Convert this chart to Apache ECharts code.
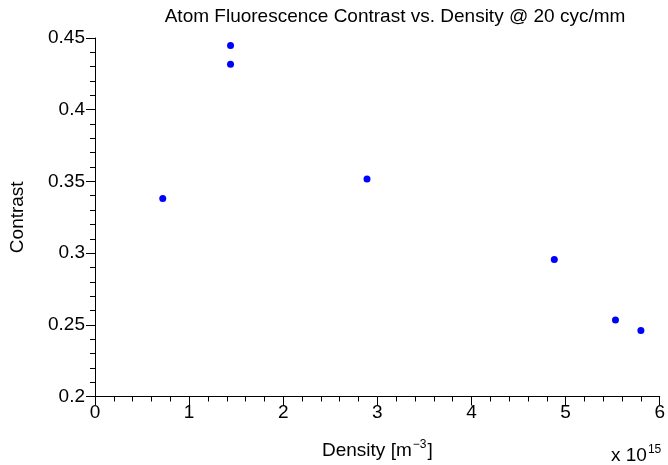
<!DOCTYPE html>
<html>
<head>
<meta charset="utf-8">
<script src="https://cdn.jsdelivr.net/npm/echarts@6/dist/echarts.min.js"></script>
<style>
  html, body { margin: 0; padding: 0; background: #fff; }
  #box { width: 668px; height: 465px; }
</style>
</head>
<body>
<div id="box"></div>
<script>
  // density in units of 1e15 m^-3
  const density = [0.72, 1.44, 1.44, 2.89, 4.88, 5.53, 5.80];
  const contrast = [0.338, 0.4447, 0.4317, 0.3516, 0.2956, 0.2533, 0.246];
  const xTicks = ['0', '1', '2', '3', '4', '5', '6'];
  const yTicks = ['0.2', '0.25', '0.3', '0.35', '0.4', '0.45'];

  const font = "'Liberation Sans', Arial, Helvetica, sans-serif";
  const fs = 19;

  const axisCommon = {
    axisLine: { show: true, lineStyle: { color: '#000', width: 1 } },
    axisTick: { show: true, inside: false, length: 9, lineStyle: { color: '#000' } },
    minorTick: { show: true, splitNumber: 5, length: 5, lineStyle: { color: '#000' } },
    splitLine: { show: false },
    minorSplitLine: { show: false },
  };

  const chart = echarts.init(document.getElementById('box'));
  chart.setOption({
    animation: false,
    backgroundColor: '#fff',
    textStyle: { fontFamily: font },
    title: {
      text: 'Atom Fluorescence Contrast vs. Density @ 20 cyc/mm',
      left: 390,
      top: 2,
      textAlign: 'center',
      textStyle: { fontFamily: font, fontSize: fs, fontWeight: 'normal', color: '#000' },
    },
    grid: { left: 92, right: 5, top: 38, bottom: 67, containLabel: false },
    xAxis: {
      type: 'value',
      min: 0,
      max: 6,
      interval: 1,
      ...axisCommon,
      axisLabel: {
        fontFamily: font,
        fontSize: fs,
        color: '#000',
        margin: 7,
        formatter: (v) => xTicks[Math.round(v)],
      },
      name: '{a|Density [m}{s|−3}{a|]}',
      nameLocation: 'middle',
      nameGap: 42,
      nameTextStyle: {
        rich: {
          a: { fontFamily: font, fontSize: fs, color: '#000' },
          s: { fontFamily: font, fontSize: 12, color: '#000', padding: [0, 1, 12, 1] },
        },
      },
    },
    yAxis: {
      type: 'value',
      min: 0.2,
      max: 0.45,
      interval: 0.05,
      ...axisCommon,
      axisLabel: {
        fontFamily: font,
        fontSize: fs,
        color: '#000',
        margin: 10,
        formatter: (v) => yTicks[Math.round((v - 0.2) / 0.05)],
      },
      name: 'Contrast',
      nameLocation: 'middle',
      nameRotate: 90,
      nameGap: 68,
      nameTextStyle: { fontFamily: font, fontSize: fs, color: '#000' },
    },
    graphic: [
      {
        type: 'text',
        left: 611,
        top: 444,
        style: {
          text: '{a|x 10}{s|15}',
          rich: {
            a: { fontFamily: font, fontSize: fs, fill: '#000' },
            s: { fontFamily: font, fontSize: 12, fill: '#000', padding: [0, 0, 12, 1] },
          },
        },
      },
    ],
    series: [
      {
        type: 'scatter',
        data: density.map((d, i) => [d, contrast[i]]),
        symbol: 'circle',
        symbolSize: 7,
        itemStyle: { color: '#0000ff', opacity: 1 },
      },
    ],
  });
</script>
</body>
</html>
